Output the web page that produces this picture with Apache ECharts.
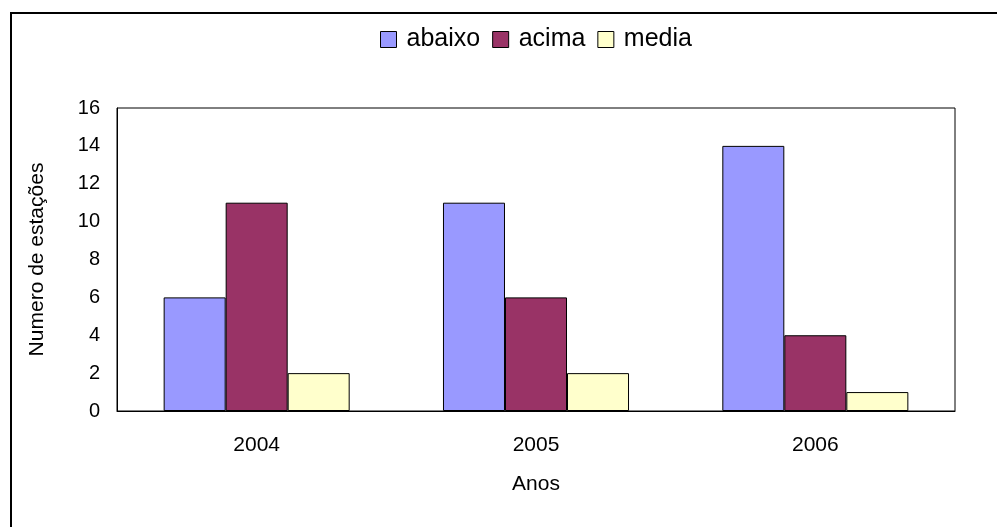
<!DOCTYPE html>
<html>
<head>
<meta charset="utf-8">
<script src="https://cdn.jsdelivr.net/npm/echarts@6/dist/echarts.min.js"></script>
<style>
    html, body { margin: 0; padding: 0; background: #fff; }
    #chartMain { width: 997px; height: 527px; }
</style>
</head>
<body>
<div id="chartMain"></div>
<script>
const anos = ['2004', '2005', '2006'];
const abaixo = [6, 11, 14];
const acima = [11, 6, 4];
const media = [2, 2, 1];

const fonte = 'Liberation Sans';

const barChartInit = () => {
    var chartDom = document.getElementById('chartMain');
    var myChart = echarts.init(chartDom);
    var option;

    option = {
        animation: false,
        textStyle: { fontFamily: fonte, color: '#000' },
        graphic: [{
            type: 'rect',
            shape: { x: 11, y: 13, width: 1100, height: 700 },
            style: { fill: 'none', stroke: '#000', lineWidth: 2 }
        }],
        legend: {
            top: 27,
            left: 380,
            padding: 0,
            itemWidth: 16,
            itemHeight: 16,
            itemGap: 12,
            icon: 'rect',
            itemStyle: { borderColor: '#000', borderWidth: 1 },
            textStyle: { fontSize: 25, fontFamily: fonte, color: '#000', padding: [0, 0, 0, 5] },
            data: ['abaixo', 'acima', 'media']
        },
        grid: {
            left: 117,
            right: 42,
            top: 108,
            bottom: 116,
            show: true,
            borderColor: '#000',
            borderWidth: 1
        },
        xAxis: {
            type: 'category',
            data: anos,
            name: 'Anos',
            nameLocation: 'middle',
            nameGap: 63,
            nameTextStyle: { fontSize: 21, fontFamily: fonte, color: '#000' },
            axisLine: { lineStyle: { color: '#000', width: 1 } },
            axisTick: { show: false },
            axisLabel: { fontSize: 21, fontFamily: fonte, color: '#000', margin: 24 }
        },
        yAxis: {
            type: 'value',
            min: 0,
            max: 16,
            interval: 2,
            name: 'Numero de estações',
            nameLocation: 'middle',
            nameGap: 69,
            nameTextStyle: { fontSize: 21, fontFamily: fonte, color: '#000' },
            axisLine: { show: true, lineStyle: { color: '#000', width: 1 } },
            axisTick: { show: false },
            splitLine: { show: false },
            axisLabel: { fontSize: 20, fontFamily: fonte, color: '#000', margin: 17 }
        },
        series: [{
            name: 'abaixo',
            type: 'bar',
            barGap: '0%',
            barCategoryGap: '33.4%',
            itemStyle: { color: '#9999FF', borderColor: '#000', borderWidth: 1 },
            data: abaixo
        },
        {
            name: 'acima',
            type: 'bar',
            barGap: '0%',
            barCategoryGap: '33.4%',
            itemStyle: { color: '#993366', borderColor: '#000', borderWidth: 1 },
            data: acima
        },
        {
            name: 'media',
            type: 'bar',
            barGap: '0%',
            barCategoryGap: '33.4%',
            itemStyle: { color: '#FFFFCC', borderColor: '#000', borderWidth: 1 },
            data: media
        },
        ]
    };

    option && myChart.setOption(option);
};

barChartInit();
</script>
</body>
</html>
